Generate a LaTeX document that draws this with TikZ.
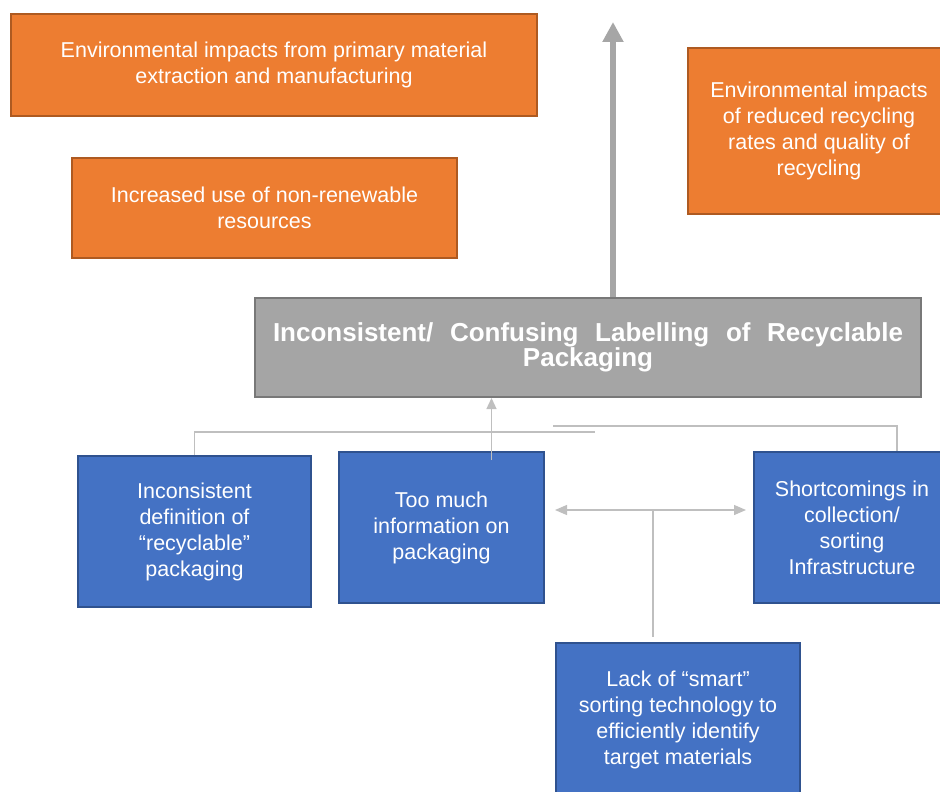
\documentclass[tikz,border=0pt]{standalone}
\usepackage{fontspec}
\setmainfont{Liberation Sans}
\usetikzlibrary{arrows.meta}
\definecolor{orfill}{HTML}{ED7D31}
\definecolor{ordraw}{HTML}{AE5A21}
\definecolor{blfill}{HTML}{4472C4}
\definecolor{bldraw}{HTML}{2F528F}
\definecolor{gyfill}{HTML}{A5A5A5}
\definecolor{gydraw}{HTML}{787878}
\definecolor{conn}{HTML}{BFBFBF}
\definecolor{bigarrow}{HTML}{A6A6A6}
\tikzset{
 box/.style={draw, line width=2pt, text=white, align=center, inner sep=0pt, font=\fontsize{21.5}{26}\selectfont},
 obox/.style={box, fill=orfill, draw=ordraw},
 bbox/.style={box, fill=blfill, draw=bldraw},
 gbox/.style={box, fill=gyfill, draw=gydraw, font=\bfseries\fontsize{26}{25}\selectfont},
 thinconn/.style={draw=conn, line width=1.3pt},
}
\begin{document}
\begin{tikzpicture}[x=1pt,y=-1pt]
\useasboundingbox (0,0) rectangle (940,792);
\clip (0,0) rectangle (940,792);
% orange boxes
\node[obox, minimum width=526pt, minimum height=102pt] (o1) at (274,65) {Environmental impacts from primary material\\extraction and manufacturing};
\node[obox, minimum width=385pt, minimum height=100pt] (o2) at (264.5,208) {Increased use of non-renewable\\resources};
\node[obox, minimum width=262pt, minimum height=166pt] (o3) at (819,131) {Environmental impacts\\of reduced recycling\\rates and quality of\\recycling};
% gray box
\node[gbox, minimum width=666pt, minimum height=99pt] (g) at (588,347.5) {\makebox[630pt][s]{Inconsistent/ Confusing Labelling of Recyclable}\\Packaging};
% blue boxes
\node[bbox, minimum width=233pt, minimum height=151pt] (b1) at (194.5,531.5) {Inconsistent\\definition of\\“recyclable”\\packaging};
\node[bbox, minimum width=205pt, minimum height=151pt] (b2) at (441.5,527.5) {Too much\\information on\\packaging};
\node[bbox, minimum width=196pt, minimum height=151pt] (b3) at (852,527.5) {Shortcomings in\\collection/\\sorting\\Infrastructure};
\node[bbox, minimum width=244pt, minimum height=154pt] (b4) at (678,720) {Lack of “smart”\\sorting technology to\\efficiently identify\\target materials};
% big arrow
\coordinate (top) at (613,22);
\draw[draw=bigarrow, line width=6pt, -{Triangle[width=20pt,length=20pt]}] (top |- g.north) -- (top);
% thin arrow from b2 to g
\coordinate (b2top) at ([xshift=50pt,yshift=-9pt]b2.north);
\draw[thinconn, -{Triangle[width=10pt,length=11pt]}] (b2top) -- (b2top |- g.south);
% left bracket line
\coordinate (l1) at (595,432);
\draw[thinconn] (b1.north) -- (b1.north |- l1) -- (l1);
% right bracket line
\coordinate (r0) at (553,426);
\coordinate (b3top) at ([xshift=45pt]b3.north);
\draw[thinconn] (r0) -- (b3top |- r0) -- (b3top);
% double arrow
\coordinate (dl) at (555,510);
\coordinate (dr) at (746,510);
\draw[thinconn, {Triangle[width=10pt,length=12pt]}-{Triangle[width=10pt,length=12pt]}] (dl) -- (dr);
\coordinate (dm) at (653,510);
\draw[thinconn] (dm) -- ([yshift=5pt]dm |- b4.north);
\end{tikzpicture}
\end{document}
